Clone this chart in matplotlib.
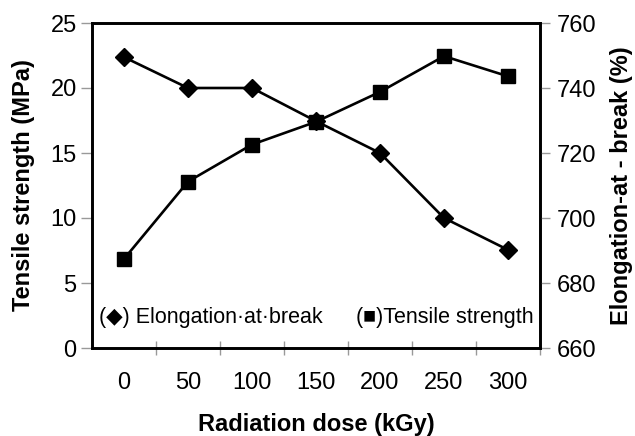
import matplotlib
matplotlib.use("Agg")
import matplotlib.pyplot as plt
import numpy as np

doses = ["0", "50", "100", "150", "200", "250", "300"]
tensile = [6.85, 12.8, 15.65, 17.4, 19.7, 22.45, 20.9]
elongation = [749.5, 740, 740, 729.8, 720, 700, 690.2]

plt.rcParams.update({'font.family': ['Liberation Sans', 'DejaVu Sans'], 'font.size': 17})

fig = plt.figure(figsize=(6.35, 4.36), dpi=100)
ax = fig.add_axes([92 / 635, 1 - 348 / 436, 448 / 635, 325 / 436])
x = np.arange(len(doses))

ax.plot(x, tensile, linestyle='-', marker='s', markersize=10, linewidth=1.9, color='black')
ax.set_xlim(-0.5, len(doses) - 0.5)
ax.set_ylim(0, 25)
ax.set_yticks([0, 5, 10, 15, 20, 25])

ax2 = ax.twinx()
ax2.plot(x, elongation, linestyle='-', marker='D', markersize=9, linewidth=1.9, color='black')
ax2.set_ylim(660, 760)
ax2.set_yticks([660, 680, 700, 720, 740, 760])

# category labels in the middle, tick marks between categories
ax.set_xticks(x)
ax.set_xticklabels(doses)
ax.tick_params(axis='x', length=0, pad=17)
ax.set_xticks(np.arange(len(doses)) + 0.5, minor=True)
ax.tick_params(axis='x', which='minor', direction='inout', length=10, color='#999999', width=1)
ax.tick_params(axis='y', direction='out', length=8, color='#999999', width=1, pad=3)
ax2.tick_params(axis='y', direction='out', length=7, color='#999999', width=1, pad=5)

for a in (ax, ax2):
    for s in a.spines.values():
        s.set_linewidth(1.9)
        s.set_color('black')

ax.set_xlabel("Radiation dose (kGy)", fontweight='bold', labelpad=14)
ax.set_ylabel("Tensile strength (MPa)", fontweight='bold', labelpad=11)
ax2.set_ylabel("Elongation-at - break (%)", fontweight='bold', labelpad=10)

ax.text(0.015, 0.095, "(\u25c6) Elongation\u00b7at\u00b7break", transform=ax.transAxes,
        fontsize=15.5, va='center', ha='left')
ax.text(0.985, 0.095, "(\u25a0)Tensile strength", transform=ax.transAxes,
        fontsize=15.5, va='center', ha='right')

fig.savefig("out.png", dpi=100)
